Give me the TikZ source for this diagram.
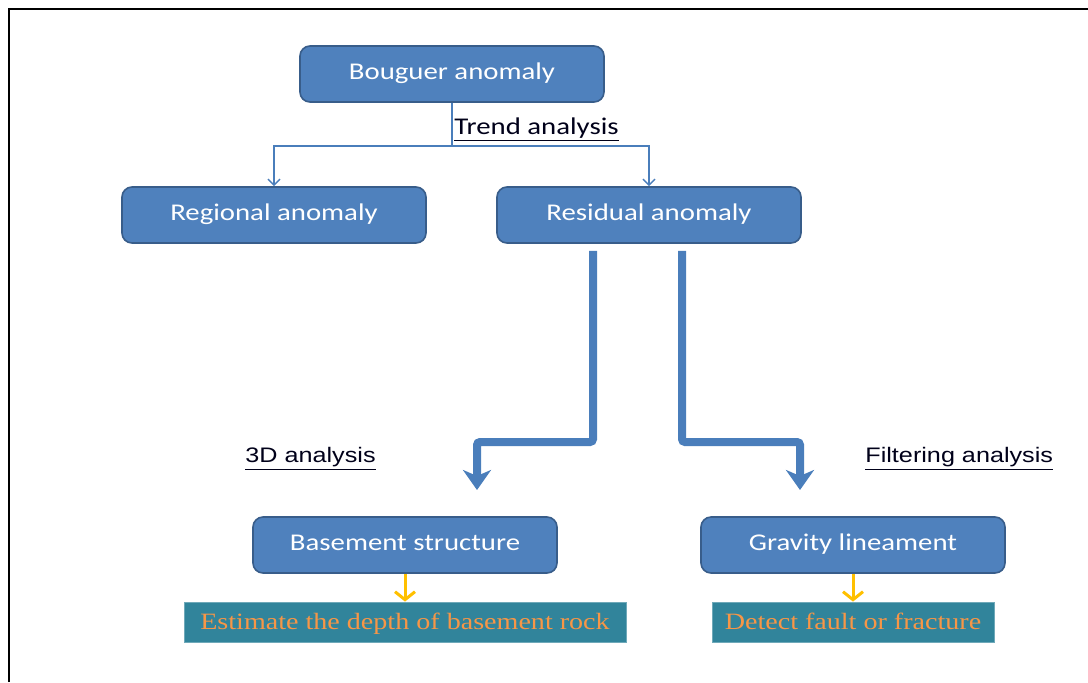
\documentclass[tikz,border=0pt]{standalone}
\usepackage{fontspec}
\usetikzlibrary{arrows.meta}
\newfontfamily\boxfont[FakeStretch=1.2]{Carlito}
\newfontfamily\labelfont[FakeStretch=1.2]{Liberation Sans}
\newfontfamily\resultfont[FakeStretch=1.2]{Liberation Serif}
\definecolor{boxblue}{HTML}{4F81BD}
\definecolor{boxedge}{HTML}{385D8A}
\definecolor{linkblue}{HTML}{4A7EBB}
\definecolor{resultteal}{HTML}{31849B}
\definecolor{resultorange}{HTML}{F79646}
\definecolor{arrowgold}{HTML}{FFC000}
\tikzset{
  stagebox/.style={rectangle, rounded corners=5pt, draw=boxedge, line width=0.8pt, fill=boxblue,
    minimum width=152pt, minimum height=28pt, inner sep=0pt, text=white,
    text height=0.72em, text depth=0.18em,
    font=\boxfont\fontsize{12}{14}\selectfont},
  resultbox/.style={rectangle, draw=resultteal!70!white, line width=0.4pt, fill=resultteal,
    minimum height=20pt, inner sep=0pt, text=resultorange,
    text height=0.8em, text depth=0.1em,
    font=\resultfont\fontsize{11.7}{14}\selectfont},
  steplabel/.style={anchor=base west, inner sep=0pt, text=black!90!blue},
  thinlink/.style={linkblue, line width=0.75pt},
  thinarrow/.style={thinlink, -{Straight Barb[length=3pt,width=6pt]}},
  bigarrow/.style={linkblue, line width=4pt, rounded corners=1.5pt,
    -{Stealth[length=10pt,width=14pt,inset=3pt]}},
  goldarrow/.style={arrowgold, line width=1.5pt, -{Straight Barb[length=4pt,width=10pt]}}
}

\begin{document}
\begin{tikzpicture}[x=0.5pt, y=-0.5pt]
  \useasboundingbox (0,0) rectangle (1088,682);
  \draw[line width=1pt] (9,682) -- (9,9) -- (1088,9);

  \node[stagebox] (bou) at (452,74) {Bouguer anomaly};
  \node[stagebox] (reg) at (274,215) {Regional anomaly};
  \node[stagebox] (res) at (649,215) {Residual anomaly};
  \node[stagebox] (bas) at (405,545) {Basement structure};
  \node[stagebox] (gra) at (853,545) {Gravity lineament};

  \node[resultbox, minimum width=221pt] (est) at (405,622) {Estimate the depth of basement rock};
  \node[resultbox, minimum width=141pt] (det) at (853,622) {Detect fault or fracture};

  \node[steplabel, font=\boxfont\fontsize{12}{14}\selectfont] (trend) at (454,134) {\underline{Trend analysis}};
  \node[steplabel, font=\labelfont\fontsize{10.5}{12}\selectfont] (threed) at (245,462) {\underline{3D analysis}};
  \node[steplabel, font=\labelfont\fontsize{10.5}{12}\selectfont] (filt) at (865,462) {\underline{Filtering analysis}};

  \draw[thinlink] (bou.south) -- ++(0,43) coordinate (split);
  \draw[thinarrow] (split) -| (reg.north);
  \draw[thinarrow] (split) -| (res.north);

  \coordinate (tipL) at (477,490);
  \coordinate (tipR) at (800,490);
  \draw[bigarrow] ([shift={(-56,7)}]res.south) |- ([yshift=24pt]tipL) -- (tipL);
  \draw[bigarrow] ([shift={(33,7)}]res.south) |- ([yshift=24pt]tipR) -- (tipR);

  \draw[goldarrow] (bas.south) -- (est.north);
  \draw[goldarrow] (gra.south) -- (det.north);
\end{tikzpicture}
\end{document}
